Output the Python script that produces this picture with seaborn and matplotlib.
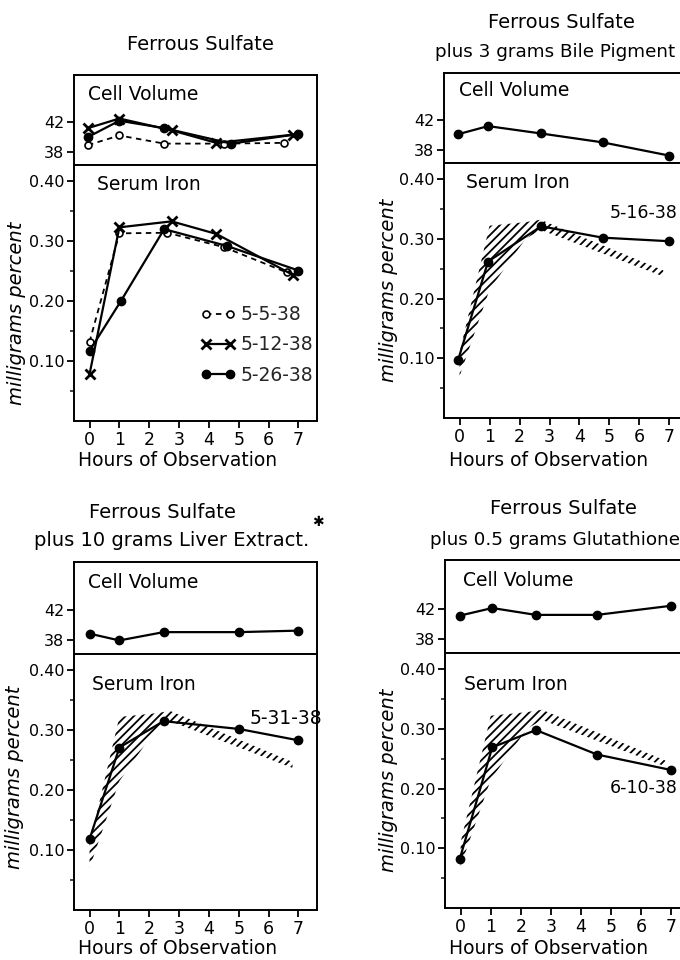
import numpy as np
import pandas as pd
import matplotlib
matplotlib.use("Agg")
import matplotlib.pyplot as plt
import seaborn as sns
from matplotlib.lines import Line2D

sns.set_style("ticks")
plt.rcParams["font.family"] = ["DejaVu Sans"]
plt.rcParams["hatch.linewidth"] = 1.3

W, H = 680, 960

# ------------------------------------------------------------------ data
hour_ticks = [0, 1, 2, 3, 4, 5, 6, 7]
hour_labels = ["0", "1", "2", "3", "4", "5", "6", "7"]
serum_ticks = [0.10, 0.20, 0.30, 0.40]
serum_labels = ["0.10", "0.20", "0.30", "0.40"]
serum_minor = [0.05, 0.15, 0.25, 0.35]
cv_ticks = [38, 42]
cv_labels = ["38", "42"]

# Panel 1: Ferrous Sulfate (three control runs)
fs_cv_h_0505 = [-0.05, 1.0, 2.5, 4.5, 6.5]
fs_cv_0505 = [38.9, 40.2, 39.1, 39.1, 39.2]
fs_cv_h_0512 = [-0.05, 1.0, 2.75, 4.25, 6.8]
fs_cv_0512 = [41.2, 42.5, 40.9, 39.2, 40.3]
fs_cv_h_0526 = [-0.05, 1.0, 2.5, 4.75, 7.0]
fs_cv_0526 = [40.0, 42.2, 41.2, 39.1, 40.4]

fs_si_h_0505 = [0.0, 1.0, 2.6, 4.5, 6.6]
fs_si_0505 = [0.132, 0.313, 0.314, 0.290, 0.248]
fs_si_h_0512 = [0.0, 1.0, 2.75, 4.25, 6.8]
fs_si_0512 = [0.078, 0.323, 0.333, 0.312, 0.244]
fs_si_h_0526 = [0.0, 1.05, 2.5, 4.6, 7.0]
fs_si_0526 = [0.117, 0.200, 0.320, 0.292, 0.251]

# Control range (hatched band) shown in panels 2-4
band_h = [0.0, 1.0, 2.2, 2.7, 6.8]
band_lo = [0.070, 0.215, 0.300, 0.315, 0.237]
band_hi = [0.110, 0.322, 0.328, 0.332, 0.247]

# Panel 2: plus 3 grams Bile Pigment (5-16-38)
bp_h = [-0.05, 0.95, 2.72, 4.77, 7.0]
bp_cv = [40.1, 41.2, 40.2, 39.0, 37.2]
bp_si = [0.097, 0.262, 0.321, 0.302, 0.296]

# Panel 3: plus 10 grams Liver Extract (5-31-38)
le_h = [0.0, 1.0, 2.48, 5.0, 7.0]
le_cv = [38.9, 38.0, 39.1, 39.1, 39.3]
le_si = [0.118, 0.271, 0.315, 0.302, 0.283]

# Panel 4: plus 0.5 grams Glutathione (6-10-38)
gl_h = [-0.03, 1.05, 2.5, 4.53, 7.0]
gl_cv = [41.1, 42.1, 41.2, 41.2, 42.4]
gl_si = [0.082, 0.269, 0.298, 0.257, 0.231]

# ------------------------------------------------------------------ helpers
def fx(px):
    return px / W


def fy(py):
    return 1 - py / H


fig = plt.figure(figsize=(W / 100, H / 100), dpi=100)

SPINE_LW = 1.4
LINE_LW = 1.6


def make_panel(left, right, top, mid, bottom):
    w = (right - left) / W
    ax_cv = fig.add_axes([fx(left), fy(mid), w, (mid - top) / H])
    ax_si = fig.add_axes([fx(left), fy(bottom), w, (bottom - mid) / H])
    for ax in (ax_cv, ax_si):
        ax.set_xlim(-0.52, 7.62)
        for s in ax.spines.values():
            s.set_linewidth(SPINE_LW)
            s.set_color("black")
        ax.tick_params(direction="out", length=5, width=1.3, labelsize=11.5,
                       colors="black", pad=2)
    ax_cv.set_ylim(36.2, 48.4)
    ax_cv.set_yticks(cv_ticks)
    ax_cv.set_yticklabels(cv_labels)
    ax_cv.set_xticks([])
    ax_si.set_ylim(0.0, 0.427)
    ax_si.set_yticks(serum_ticks)
    ax_si.set_yticklabels(serum_labels)
    ax_si.set_yticks(serum_minor, minor=True)
    ax_si.tick_params(axis="y", which="minor", direction="out", length=3,
                      width=1.2)
    ax_si.set_xticks(hour_ticks)
    ax_si.set_xticklabels(hour_labels)
    ax_si.tick_params(axis="x", labelsize=12.5)
    for ax in (ax_cv, ax_si):
        ax.set_xlabel("")
        ax.set_ylabel("")
    return ax_cv, ax_si


def line(ax, x, y, style="solid", kind="dot"):
    kw = dict(color="black", linewidth=LINE_LW, errorbar=None, sort=False,
              legend=False)
    if kind == "dot":
        kw.update(marker="o", markersize=6, markerfacecolor="black",
                  markeredgecolor="black", markeredgewidth=1.0)
    elif kind == "open":
        kw.update(marker="o", markersize=5, markerfacecolor="white",
                  markeredgecolor="black", markeredgewidth=1.2)
    elif kind == "cross":
        kw.update(marker="x", markersize=7, markeredgecolor="black",
                  markeredgewidth=2.0)
    if style == "dashed":
        kw.update(linestyle=(0, (3, 2.5)), linewidth=1.3)
    sns.lineplot(x=x, y=y, ax=ax, **kw)


def band(ax):
    ax.fill_between(band_h, band_lo, band_hi, hatch="////", facecolor="none",
                    edgecolor="black", linewidth=0)


def put(px, py, s, size=13.5, ha="center", va="center", **kw):
    fig.text(fx(px), fy(py), s, fontsize=size, ha=ha, va=va, color="black",
             **kw)


# ------------------------------------------------------------------ panel 1
cv1, si1 = make_panel(74, 317, 75, 165, 421)
line(cv1, fs_cv_h_0505, fs_cv_0505, "dashed", "open")
line(cv1, fs_cv_h_0512, fs_cv_0512, "solid", "cross")
line(cv1, fs_cv_h_0526, fs_cv_0526, "solid", "dot")
line(si1, fs_si_h_0505, fs_si_0505, "dashed", "open")
line(si1, fs_si_h_0512, fs_si_0512, "solid", "cross")
line(si1, fs_si_h_0526, fs_si_0526, "solid", "dot")

handles = [
    Line2D([], [], color="black", lw=1.3, ls=(0, (3, 2.5)), marker="o",
           markersize=5, markerfacecolor="white", markeredgecolor="black",
           markeredgewidth=1.2),
    Line2D([], [], color="black", lw=LINE_LW, marker="x", markersize=7,
           markeredgecolor="black", markeredgewidth=2.0),
    Line2D([], [], color="black", lw=LINE_LW, marker="o", markersize=6,
           markerfacecolor="black", markeredgecolor="black"),
]
si1.legend(handles, ["5-5-38", "5-12-38", "5-26-38"], loc="center left",
           bbox_to_anchor=(fx(200), fy(345)), bbox_transform=fig.transFigure,
           frameon=False, numpoints=2, handlelength=1.9, handletextpad=0.25,
           labelspacing=0.6, fontsize=13.5, borderpad=0, borderaxespad=0)

# ------------------------------------------------------------------ panel 2
cv2, si2 = make_panel(444, 688, 73, 163, 418)
line(cv2, bp_h, bp_cv)
band(si2)
line(si2, bp_h, bp_si)

# ------------------------------------------------------------------ panel 3
cv3, si3 = make_panel(74, 317, 562, 654, 910)
line(cv3, le_h, le_cv)
band(si3)
line(si3, le_h, le_si)

# ------------------------------------------------------------------ panel 4
cv4, si4 = make_panel(445, 690, 560, 653, 908)
line(cv4, gl_h, gl_cv)
band(si4)
line(si4, gl_h, gl_si)

# ------------------------------------------------------------------ texts
put(200, 45, "Ferrous Sulfate", 14)
put(561, 22, "Ferrous Sulfate", 14)
put(555, 52, "plus 3 grams Bile Pigment", 13.2)
put(162, 512, "Ferrous Sulfate", 14)
put(172, 540, "plus 10 grams Liver Extract.", 14)
put(318, 522, "\u2731", 10, fontweight="bold")
put(563, 509, "Ferrous Sulfate", 14)
put(555, 540, "plus 0.5 grams Glutathione", 13.2)

for (cx, cy) in [(88, 94), (459, 90), (88, 582), (463, 580)]:
    put(cx, cy, "Cell Volume", 13.5, ha="left")
for (cx, cy) in [(97, 185), (466, 183), (92, 685), (464, 684)]:
    put(cx, cy, "Serum Iron", 13.5, ha="left")

for (cx, cy) in [(17, 313), (388, 290), (15, 777), (388, 780)]:
    put(cx, cy, "milligrams percent", 14, rotation=90, style="italic")

for (cx, cy) in [(178, 461), (549, 461), (178, 949), (549, 949)]:
    put(cx, cy, "Hours of Observation", 13.5)

put(610, 213, "5-16-38", 12.5, ha="left")
put(250, 719, "5-31-38", 13.5, ha="left")
put(610, 788, "6-10-38", 12.5, ha="left")

fig.savefig("out.png", dpi=100, facecolor="white")
